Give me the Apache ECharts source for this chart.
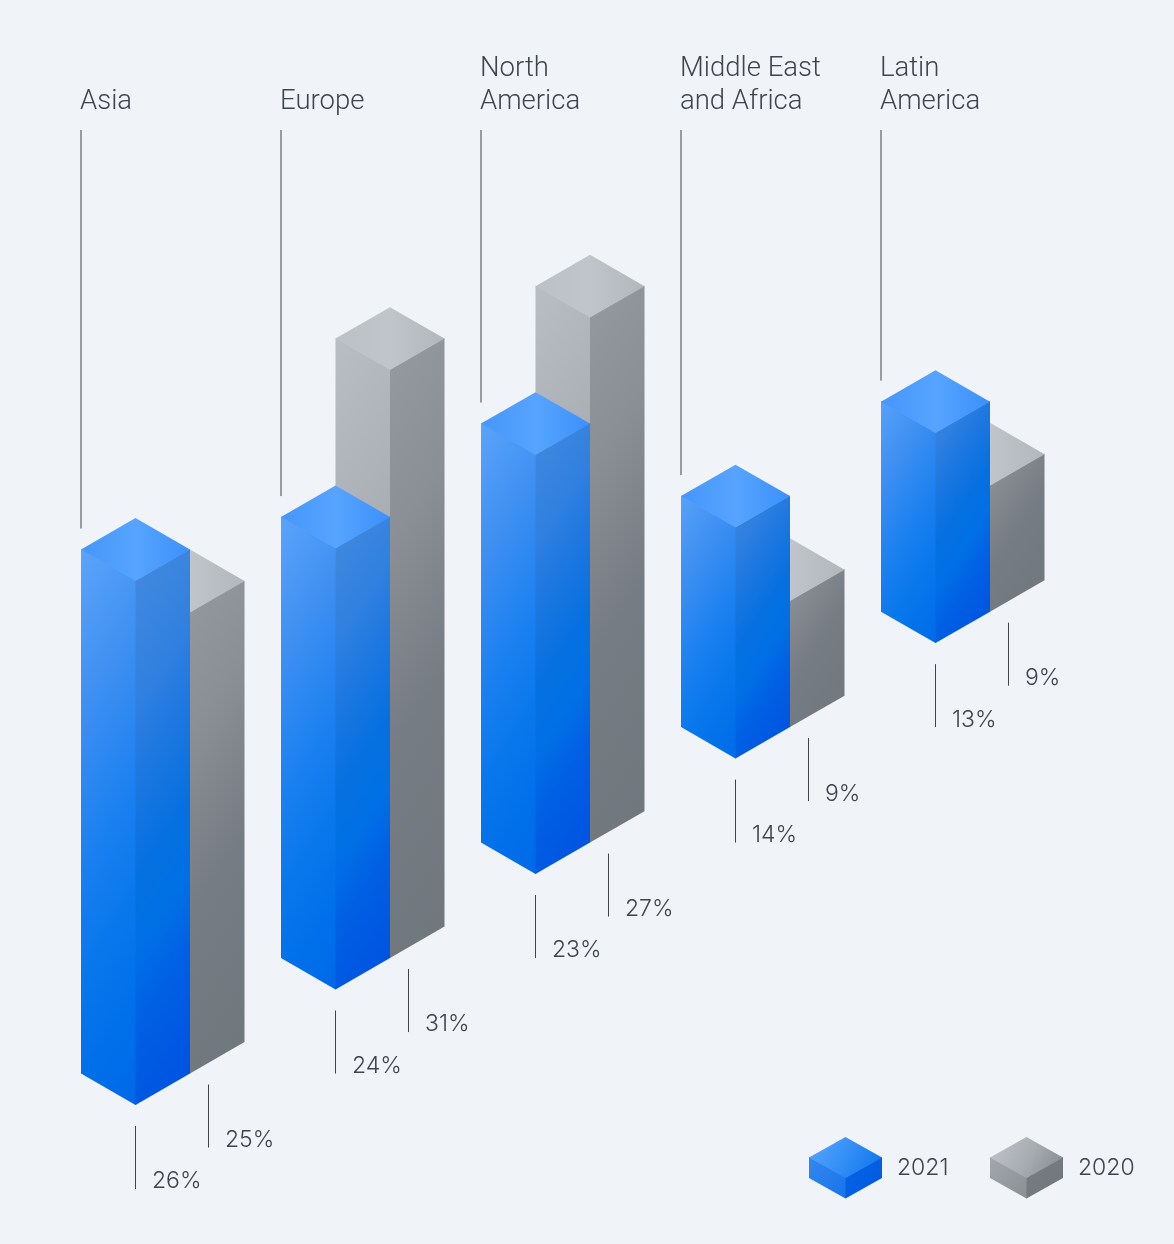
<!DOCTYPE html>
<html><head><meta charset="utf-8">
<style>html,body{margin:0;padding:0;background:#f0f4f9}#c{width:1174px;height:1244px}</style>
<script src="https://cdn.jsdelivr.net/npm/echarts@6/dist/echarts.min.js"></script>
</head><body><div id="c"></div>
<script>
const categories = ['Asia', 'Europe', 'North\nAmerica', 'Middle East\nand Africa', 'Latin\nAmerica'];
// Printed shares
const printed2021 = ['26%', '24%', '23%', '14%', '13%'];
const printed2020 = ['25%', '31%', '27%', '9%', '9%'];
// Bar heights as drawn in the picture (the picture does not scale strictly with the printed shares)
const drawn2021 = [26.2, 22.05, 20.95, 11.55, 10.5];
const drawn2020 = [23.05, 29.4, 26.25, 6.3, 6.3];
const legendNames = ['2021', '2020'];

const FONT_TITLE = 'Roboto, "Noto Sans", sans-serif';
const FONT_VALUE = 'Inter, Roboto, sans-serif';
const TEXT = '#3f454c', LINE = '#3f444a';
const TAN30 = Math.tan(Math.PI / 6);
const HALF = 0.2725; // half block width as a share of the category band

function lin(x0, y0, x1, y1, stops) {
  return new echarts.graphic.LinearGradient(x0, y0, x1, y1,
    stops.map(s => ({offset: s[0], color: s[1]})), true);
}
const PAL = {
  blue: {
    left: [[0, '#60a8fc'], [0.25, '#4090f2'], [0.47, '#1a80f0'], [0.6, '#0a78ec'], [0.75, '#0070ea'], [0.89, '#0068e8'], [1, '#0058e2']],
    right: [[0, '#4288de'], [0.2, '#4088de'], [0.36, '#3080e0'], [0.45, '#1f78e0'], [0.59, '#0670e0'], [0.69, '#0070e6'], [0.79, '#0060e4'], [1, '#0050e0']],
    top: [[0, '#4596fb'], [0.5, '#56a4ff'], [1, '#3c90fb']],
    legendTop: [[0, '#5aa6ff'], [0.55, '#2f8cf6'], [1, '#0a70ea']],
    legendLeft: [[0, '#3a8cf0'], [1, '#0a6ae6']],
    legendRight: [[0, '#0a6ee8'], [1, '#0058e2']]
  },
  gray: {
    left: [[0, '#bbc0c6'], [0.5, '#a2a7ad'], [1, '#7a8087']],
    right: [[0, '#9b9fa6'], [0.4, '#8a8e95'], [0.65, '#767c83'], [1, '#6f767c']],
    top: [[0, '#bcc0c7'], [0.5, '#c0c4cb'], [1, '#b2b7bd']],
    legendTop: [[0, '#c2c6cc'], [0.55, '#a6abb1'], [1, '#7f858b']],
    legendLeft: [[0, '#a8adb3'], [1, '#7d8389']],
    legendRight: [[0, '#7c8288'], [1, '#6f767c']]
  }
};
function poly(points, fill) {
  return {type: 'polygon', shape: {points}, style: {fill}, silent: true};
}
function vline(x, y0, y1) {
  return {type: 'line', shape: {x1: x, y1: y0, x2: x, y2: y1}, style: {stroke: LINE, lineWidth: 1}, silent: true};
}
function label(x, y, text, size, va, font) {
  return {type: 'text', silent: true, style: {x, y, text, fill: TEXT, fontFamily: font, fontSize: size,
    fontWeight: 300, lineHeight: 33, align: 'left', verticalAlign: va}};
}
function block(cx, yBase, yTop, w, dy, pal) {
  const x0 = cx - w, x1 = cx + w;
  const top = yTop - 2 * dy;
  const k = (1.5 * (x1 - x0) + (yBase - top)) / 3.25;
  const ex = x0 + 1.5 * k, ey = top + k;
  const L = lin(x0, top, ex, ey, pal.left);
  const R = lin(x0, top, ex, ey, pal.right);
  return [
    poly([[x0, yTop - dy - 0.6], [cx + 0.6, yTop - 0.6], [cx + 0.6, yBase - 0.3], [cx, yBase], [x0, yBase - dy]], L),
    poly([[cx, yTop - 0.6], [x1, yTop - dy - 0.6], [x1, yBase - dy], [cx, yBase]], R),
    poly([[x0, yTop - dy], [cx, yTop - 2 * dy], [x1, yTop - dy], [cx, yTop]], lin(x0, 0, x1, 0, pal.top))
  ];
}
function renderer(kind) {
  return function (params, api) {
    const i = api.value(0), h = api.value(1);
    const band = api.size([1, 0])[0];
    const w = band * HALF, dy = w * TAN30;
    const stagger = i * band * TAN30;
    const b = api.coord([i, 0]), t = api.coord([i, h]);
    const isBlue = kind === 'blue';
    const cx = b[0] + (isBlue ? 0 : w);
    const yBase = b[1] - stagger - (isBlue ? 0 : dy);
    const yTop = yBase - (b[1] - t[1]);
    const children = block(cx, yBase, yTop, w, dy, PAL[kind]);
    const gap = 21, len = 63;
    if (isBlue) {
      children.push(vline(cx - w, 130, yTop - dy - gap));
      children.push(label(cx - w - 1, 118.5, categories[i], 27.5, 'bottom', FONT_TITLE));
      children.push(vline(cx, yBase + gap, yBase + gap + len));
      children.push(label(cx + 16.5, yBase + gap + len - 7.5, printed2021[i], 23, 'middle', FONT_VALUE));
    } else {
      const lx = cx + 18.5, ly = yBase - 10 + gap;
      children.push(vline(lx, ly, ly + len));
      children.push(label(lx + 16.5, ly + len - 7.5, printed2020[i], 23, 'middle', FONT_VALUE));
    }
    return {type: 'group', children};
  };
}
function legendCube(cx, top, pal) {
  const w = 36.5, d = 20.5, t = 20.5;
  const yM = top + d, yF = top + 2 * d, x0 = cx - w, x1 = cx + w;
  const grad = s => lin(x0, top, x1, top + 2 * d + t, s);
  return [
    poly([[x0, yM - 0.5], [cx + 0.5, yF - 0.5], [cx + 0.5, yF + t - 0.3], [cx, yF + t], [x0, yM + t]], grad(pal.legendLeft)),
    poly([[cx, yF - 0.5], [x1, yM - 0.5], [x1, yM + t], [cx, yF + t]], grad(pal.legendRight)),
    poly([[x0, yM], [cx, top], [x1, yM], [cx, yF]], lin(x0, top, x1, top + 2 * d, pal.legendTop))
  ];
}
function legendText(x, text) {
  return {type: 'text', silent: true, style: {x, y: 1168.5, text, fill: TEXT, fontFamily: FONT_VALUE, fontSize: 23, fontWeight: 300, verticalAlign: 'middle'}};
}
const chart = echarts.init(document.getElementById('c'), null, {renderer: 'canvas'});
chart.setOption({
  animation: false,
  backgroundColor: '#f0f4f9',
  grid: {left: 35.5, width: 1000, top: 5, height: 1100},
  xAxis: {type: 'category', data: categories, show: false, boundaryGap: true},
  yAxis: {type: 'value', min: 0, max: 55, show: false},
  series: [
    {name: legendNames[1], type: 'custom', clip: false, z: 2, renderItem: renderer('gray'),
     encode: {x: 0, y: 1}, data: drawn2020.map((v, i) => [i, v])},
    {name: legendNames[0], type: 'custom', clip: false, z: 3, renderItem: renderer('blue'),
     encode: {x: 0, y: 1}, data: drawn2021.map((v, i) => [i, v])}
  ],
  graphic: [
    ...legendCube(845.5, 1137, PAL.blue),
    legendText(897, legendNames[0]),
    ...legendCube(1026.5, 1137, PAL.gray),
    legendText(1078, legendNames[1])
  ]
});
</script></body></html>
